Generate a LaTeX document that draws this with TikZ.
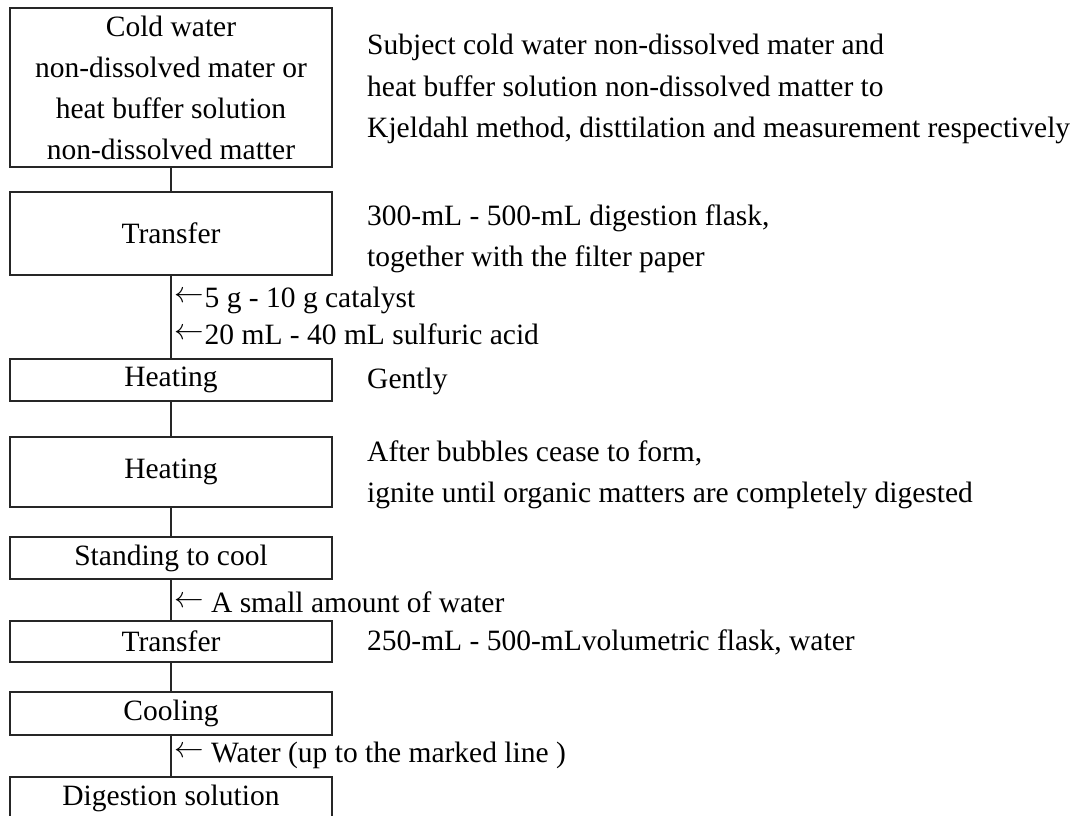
\RequirePackage{fix-cm}
\documentclass[tikz,border=0pt]{standalone}
\usepackage{fontspec}
\setmainfont{Liberation Serif}
\newcommand{\larr}{\raisebox{4.5pt}{\(\leftarrow\)}}
\begin{document}
\tikzset{
  box/.style={draw=black!85, line width=1.8pt, minimum width=322pt, inner sep=0pt,
    align=center, font=\fontsize{29.5}{41}\selectfont},
  side/.style={anchor=base west, inner sep=0pt, font=\fontsize{29.5}{41}\selectfont},
  link/.style={draw=black!85, line width=1.8pt}
}
\begin{tikzpicture}[x=1pt,y=-1pt]
\clip (0,0) rectangle (1076,816);
% boxes
\node[box, minimum height=159pt] (b1) at (171,87.5) {Cold water\\non-dissolved mater or\\heat buffer solution\\non-dissolved matter};
\node[box, minimum height=83pt] (b2) at (171,233.5) {Transfer};
\node[box, minimum height=42pt] (b3) at (171,380) {Heating};
\node[box, minimum height=70pt] (b4) at (171,472) {Heating};
\node[box, minimum height=42pt] (b5) at (171,558) {Standing to cool};
\node[box, minimum height=41pt] (b6) at (171,641.5) {Transfer};
\node[box, minimum height=43pt] (b7) at (171,713.5) {Cooling};
\node[box, minimum height=42pt] (b8) at (171,798) {Digestion solution};
% connectors
\draw[link] (b1) -- (b2);
\draw[link] (b2) -- (b3);
\draw[link] (b3) -- (b4);
\draw[link] (b4) -- (b5);
\draw[link] (b5) -- (b6);
\draw[link] (b6) -- (b7);
\draw[link] (b7) -- (b8);
% side notes
\node[side] (s1a) at (367,55) {Subject cold water non-dissolved mater and};
\node[side] (s1b) at (367,96) {heat buffer solution non-dissolved matter to};
\node[side] (s1c) at (367,137) {Kjeldahl method, disttilation and measurement respectively};
\node[side] (s2a) at (367,225) {300-mL - 500-mL digestion flask,};
\node[side] (s2b) at (367,266) {together with the filter paper};
\node[side] (s3) at (367,388) {Gently};
\node[side] (s4a) at (367,461) {After bubbles cease to form,};
\node[side] (s4b) at (367,502) {ignite until organic matters are completely digested};
\node[side] (s6) at (367,650) {250-mL - 500-mLvolumetric flask, water};
% additions
\node[side] (a1) at (174,307) {\larr\kern1pt 5 g - 10 g catalyst};
\node[side] (a2) at (174,344) {\larr\kern1pt 20 mL - 40 mL sulfuric acid};
\node[side] (a3) at (174,612) {\larr{} A small amount of water};
\node[side] (a4) at (174,762) {\larr{} Water (up to the marked line )};
\end{tikzpicture}
\end{document}
